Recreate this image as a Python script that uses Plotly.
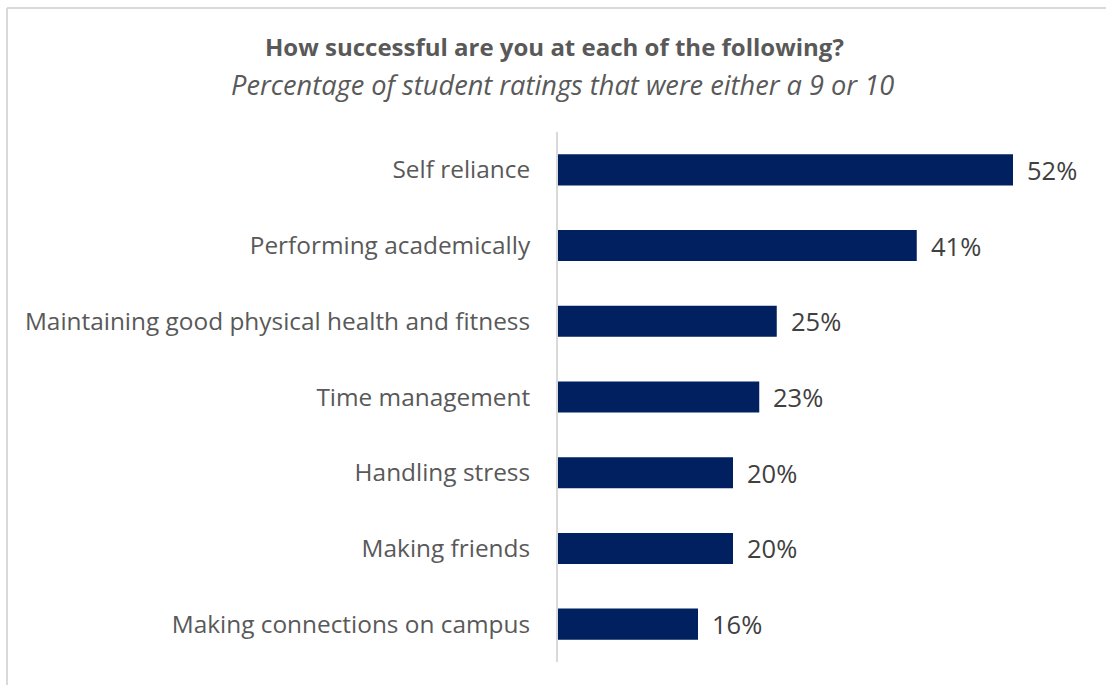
import plotly.graph_objects as go

# Survey results: share of ratings that were a 9 or 10
categories = [
    "Self reliance",
    "Performing academically",
    "Maintaining good physical health and fitness",
    "Time management",
    "Handling stress",
    "Making friends",
    "Making connections on campus",
]
values = [52, 41, 25, 23, 20, 20, 16]
value_labels = ["52%", "41%", "25%", "23%", "20%", "20%", "16%"]

title_text = "How successful are you at each of the following?"
subtitle_text = "Percentage of student ratings that were either a 9 or 10"

W, H = 1106, 685
ML, MR, MT, MB = 558, 23, 132, 23
PW, PH = W - ML - MR, H - MT - MB

def px_x(x):
    return (x - ML) / PW

def px_y(y):
    return (H - MB - y) / PH

FONT = "'Open Sans', sans-serif"

fig = go.Figure(
    go.Bar(
        x=values,
        y=categories,
        orientation="h",
        width=0.41,
        marker=dict(color="#002060", line=dict(width=0)),
        hoverinfo="skip",
    )
)

# value labels to the right of each bar
for cat, v, lab in zip(categories, values, value_labels):
    fig.add_annotation(
        x=v, y=cat, text=lab, showarrow=False,
        xanchor="left", xshift=12, yshift=0,
        font=dict(family=FONT, size=25.5, color="#404040"),
    )

# title and subtitle
fig.add_annotation(
    xref="paper", yref="paper", x=px_x(554), y=px_y(47),
    text="<b>" + title_text + "</b>", showarrow=False,
    xanchor="center", yanchor="middle",
    font=dict(family=FONT, size=24, color="#595959"),
)
fig.add_annotation(
    xref="paper", yref="paper", x=px_x(562), y=px_y(84),
    text="<i>" + subtitle_text + "</i>", showarrow=False,
    xanchor="center", yanchor="middle",
    font=dict(family=FONT, size=27.2, color="#595959"),
)

# outer frame lines (top and left)
fig.add_shape(type="line", xref="paper", yref="paper",
              x0=px_x(7), x1=px_x(W + 5), y0=px_y(8), y1=px_y(8),
              line=dict(color="#d9d9d9", width=2))
fig.add_shape(type="line", xref="paper", yref="paper",
              x0=px_x(7), x1=px_x(7), y0=px_y(8), y1=px_y(H + 5),
              line=dict(color="#d9d9d9", width=2))

fig.update_layout(
    width=W, height=H,
    margin=dict(l=ML, r=MR, t=MT, b=MB, pad=0),
    paper_bgcolor="white", plot_bgcolor="white",
    showlegend=False,
    font=dict(family=FONT),
    xaxis=dict(range=[0, PW / 8.75], visible=False, showgrid=False, zeroline=False),
    yaxis=dict(
        autorange="reversed",
        showline=True, linecolor="#d9d9d9", linewidth=2,
        showgrid=False, zeroline=False,
        ticks="", ticklabelstandoff=21,
        tickfont=dict(family=FONT, size=24.4, color="#595959"),
    ),
)

fig.write_html("out.html")
